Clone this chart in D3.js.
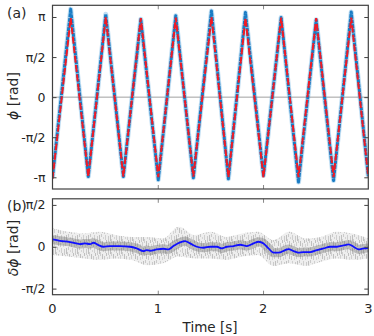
<!DOCTYPE html>
<html><head><meta charset="utf-8">
<script src="https://cdn.jsdelivr.net/npm/d3@7"></script>
<style>
body{margin:0;background:#fff;}
text{font-family:"DejaVu Sans",sans-serif;fill:#262626;}
</style></head>
<body><svg id="c" width="374" height="336"></svg>
<script>
// ---------- data ----------
const timeTicks = [0, 1, 2, 3];
const phaseTicks = [Math.PI, Math.PI/2, 0, -Math.PI/2, -Math.PI];
const phaseTickLabels = ["π", "π/2", "0", "-π/2", "-π"];
const errTicks = [Math.PI/2, 0, -Math.PI/2];
const errTickLabels = ["π/2", "0", "-π/2"];

// vertices of the phase triangle wave (peaks / troughs)
const vertexTimes   = [0, 0.173, 0.34, 0.506, 0.673, 0.839, 1.005, 1.171, 1.338, 1.51, 1.671, 1.833, 2.004, 2.172, 2.337, 2.505, 2.67, 2.838, 3.0];
const modelPhase    = [-3.2, 3.1, -3.12, 3.14, -3.12, 3.1, -3.14, 3.12, -3.12, 3.14, -3.14, 3.1, -3.14, 3.12, -3.14, 3.1, -3.14, 3.12, -3.14];
const measuredPhase = [-3.15, 3.45, -3.11, 3.25, -3.11, 3.05, -3.24, 3.19, -3.16, 3.38, -3.2, 3.32, -3.07, 3.12, -3.33, 3.03, -3.27, 3.34, -3.1];

// smoothed phase error (blue line in panel b)
const errTimes = [0,0.071,0.166,0.261,0.309,0.357,0.388,0.436,0.483,0.547,0.642,0.737,0.800,0.864,0.895,0.927,0.990,1.054,1.101,1.149,1.212,1.260,1.307,1.371,1.434,1.498,1.561,1.609,1.656,1.719,1.783,1.846,1.910,1.957,2.005,2.052,2.100,2.147,2.211,2.242,2.290,2.337,2.385,2.448,2.512,2.575,2.639,2.702,2.765,2.813,2.860,2.908,2.956,3.0];
const errSmooth = [0.274,0.224,0.175,0.10,0.125,0.10,0.15,0.062,0,0.025,0.025,0,-0.062,-0.162,-0.125,-0.15,-0.10,-0.075,-0.10,0.025,0.162,0.212,0.125,0,-0.037,0,0,-0.062,0,0.025,0.075,0.025,0.125,0.187,0.125,-0.062,-0.224,-0.224,-0.125,-0.087,-0.162,-0.224,-0.2,-0.2,-0.125,-0.062,0,0,0.05,0.087,0,-0.1,-0.062,-0.05];

// envelope of the raw phase-error scatter (grey cloud)
const cloudTimes = [0,0.15,0.3,0.45,0.6,0.75,0.9,1.05,1.2,1.35,1.5,1.65,1.8,1.95,2.1,2.25,2.4,2.55,2.7,2.85,3.0];
const cloudUpper = [0.69,0.56,0.5,0.56,0.44,0.37,0.37,0.31,0.75,0.44,0.56,0.37,0.5,0.56,0.25,0.56,0.31,0.37,0.56,0.5,0.31];
const cloudLower = [-0.31,-0.37,-0.44,-0.5,-0.44,-0.5,-0.69,-0.62,-0.37,-0.44,-0.44,-0.5,-0.37,-0.31,-0.72,-0.62,-0.72,-0.56,-0.44,-0.5,-0.44];

// ---------- layout ----------
const svg = d3.select("#c");
const L = 52.5, R = 368.3;
const topA = {y0: 5.3, y1: 189};
const botA = {y0: 198.8, y1: 294.7};
const axisCol = "#404040";

const x = d3.scaleLinear().domain([0, 3]).range([L, R]);
const yA = d3.scaleLinear().domain([-3.6, 3.6]).range([topA.y1, topA.y0]);
const yB = d3.scaleLinear().domain([-1.8, 1.8]).range([botA.y1, botA.y0]);

const defs = svg.append("defs");
["ca","cb"].forEach((id,i)=>{
  const a = i===0?topA:botA;
  defs.append("clipPath").attr("id",id).append("rect")
    .attr("x",L).attr("y",a.y0).attr("width",R-L).attr("height",a.y1-a.y0);
});
// irregular speckle texture for the grey scatter cloud
const pat = defs.append("pattern").attr("id","noise").attr("patternUnits","userSpaceOnUse")
  .attr("width",11).attr("height",13);
[[0,1,6,"#666",0.35],[1,5,4,"#888",0.3],[2,0,3,"#777",0.3],[3,7,5,"#666",0.35],[4,3,2,"#999",0.3],
 [5,9,4,"#777",0.3],[6,1,5,"#888",0.3],[7,6,3,"#666",0.35],[8,10,3,"#999",0.3],[9,2,6,"#777",0.3],[10,8,4,"#888",0.3]]
 .forEach(r=>pat.append("rect").attr("x",r[0]).attr("y",r[1]).attr("width",1).attr("height",r[2])
   .attr("fill",r[3]).attr("opacity",r[4]));

function frame(y, a, ticks, labels){
  const g = svg.append("g");
  const left = g.append("g").attr("transform",`translate(${L},0)`)
    .call(d3.axisLeft(y).tickValues(ticks).tickFormat((d,i)=>labels[i]).tickSize(-4).tickPadding(7));
  left.select(".domain").remove();
  left.selectAll("line").attr("stroke",axisCol);
  left.selectAll("text").attr("font-size",12.5).attr("fill","#262626").style("font-family","DejaVu Sans");
  const right = g.append("g").attr("transform",`translate(${R},0)`)
    .call(d3.axisRight(y).tickValues(ticks).tickSize(-4).tickFormat(""));
  right.select(".domain").remove();
  right.selectAll("line").attr("stroke",axisCol);
  const bot = g.append("g").attr("transform",`translate(0,${a.y1})`)
    .call(d3.axisBottom(x).tickValues(timeTicks.slice(1,-1)).tickSize(-4).tickFormat(""));
  bot.select(".domain").remove(); bot.selectAll("line").attr("stroke","#888");
  const top = g.append("g").attr("transform",`translate(0,${a.y0})`)
    .call(d3.axisTop(x).tickValues(timeTicks.slice(1,-1)).tickSize(-4).tickFormat(""));
  top.select(".domain").remove(); top.selectAll("line").attr("stroke","#888");
  g.append("rect").attr("x",L).attr("y",a.y0).attr("width",R-L).attr("height",a.y1-a.y0)
    .attr("fill","none").attr("stroke",axisCol).attr("stroke-width",1.2);
}

// ---------- panel (a) ----------
const pa = svg.append("g").attr("clip-path","url(#ca)");
pa.append("line").attr("x1",L).attr("x2",R).attr("y1",yA(0)).attr("y2",yA(0))
  .attr("stroke","#a0a0a0").attr("stroke-width",1);
const lineA = d3.line().x((d,i)=>x(vertexTimes[i])).y(d=>yA(d));
pa.append("path").attr("d",lineA(measuredPhase)).attr("fill","none")
  .attr("stroke","#4aa0dc").attr("stroke-width",5).attr("opacity",0.35).attr("stroke-linejoin","round");
pa.append("path").attr("d",lineA(measuredPhase)).attr("fill","none")
  .attr("stroke","#1a7cc4").attr("stroke-width",3).attr("stroke-linejoin","round")
  .attr("stroke-dasharray","4,0.6");
pa.append("path").attr("d",lineA(modelPhase)).attr("fill","none")
  .attr("stroke","#f01a24").attr("stroke-width",2).attr("stroke-dasharray","7,2.5");
frame(yA, topA, phaseTicks, phaseTickLabels);

// ---------- panel (b) ----------
const pb = svg.append("g").attr("clip-path","url(#cb)");
const area = d3.area().x((d,i)=>x(cloudTimes[i])).y0((d,i)=>yB(cloudLower[i])).y1(d=>yB(d)).curve(d3.curveMonotoneX);
pb.append("path").attr("d",area(cloudUpper)).attr("fill","#c8c8c8").attr("opacity",0.3);
pb.append("path").attr("d",area(cloudUpper)).attr("fill","url(#noise)");
const lineB = d3.line().x((d,i)=>x(errTimes[i])).y(d=>yB(d)).curve(d3.curveMonotoneX);
pb.append("path").attr("d",lineB(errSmooth)).attr("fill","none")
  .attr("stroke","#707070").attr("stroke-width",9).attr("opacity",0.4);
pb.append("path").attr("d",lineB(errSmooth)).attr("fill","none")
  .attr("stroke","#1010ff").attr("stroke-width",1.8);
frame(yB, botA, errTicks, errTickLabels);

// ---------- x tick labels & titles ----------
svg.append("g").selectAll("text").data(timeTicks).join("text")
  .attr("x",d=>x(d)).attr("y",313).attr("text-anchor","middle").attr("font-size",13).text(d=>d);
svg.append("text").attr("x",210).attr("y",332).attr("text-anchor","middle").attr("font-size",13.5).text("Time [s]");

svg.append("text").attr("transform","translate(18,96) rotate(-90)").attr("text-anchor","middle")
  .attr("font-size",14).html('<tspan font-style="italic">ϕ</tspan> [rad]');
svg.append("text").attr("transform","translate(18,248) rotate(-90)").attr("text-anchor","middle")
  .attr("font-size",14).html('<tspan font-style="italic">δϕ</tspan> [rad]');

svg.append("text").attr("x",7).attr("y",18).attr("font-size",14).text("(a)");
svg.append("text").attr("x",7).attr("y",211).attr("font-size",14).text("(b)");
</script></body></html>
